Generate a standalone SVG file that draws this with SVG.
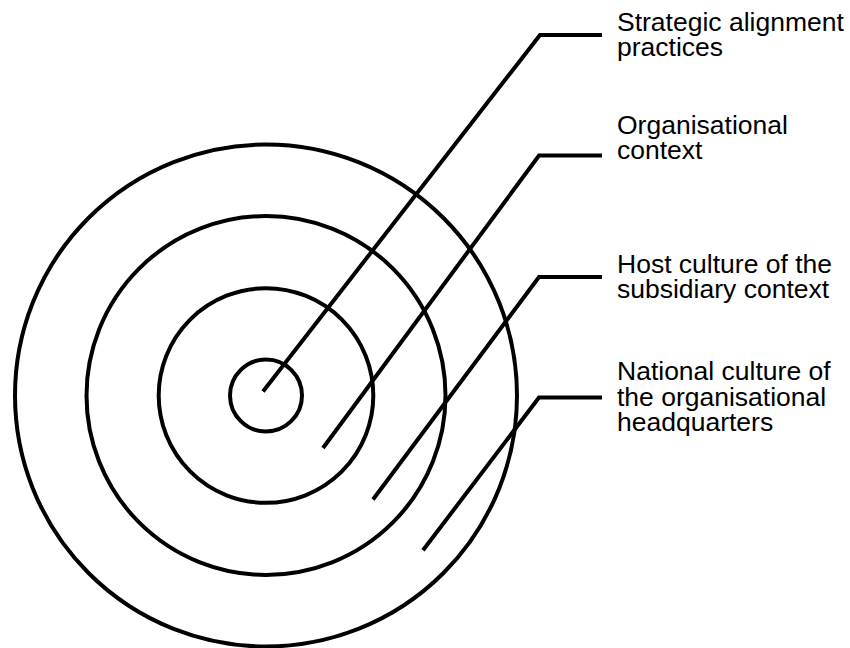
<svg xmlns="http://www.w3.org/2000/svg" width="850" height="648" viewBox="0 0 850 648">
<style>
.ring{fill:none;stroke:#000;stroke-width:4}
.lead{fill:none;stroke:#000;stroke-width:4;stroke-linecap:butt;stroke-linejoin:miter}
.lbl{font-family:"Liberation Sans",Arial,sans-serif;font-size:26.5px;fill:#000}
</style>
<rect width="850" height="648" fill="#fff"/>
<g id="rings">
<circle id="ring-national" class="ring" cx="266" cy="395.5" r="251"/>
<circle id="ring-host" class="ring" cx="266" cy="395.5" r="179.5"/>
<circle id="ring-organisational" class="ring" cx="266" cy="395.5" r="107.3"/>
<circle id="ring-strategic" class="ring" cx="266" cy="395.5" r="36"/>
</g>
<g id="connectors">
<polyline class="lead" points="263,391.5 540,35 602,35"/>
<polyline class="lead" points="323,448 539,155.5 602,155.5"/>
<polyline class="lead" points="373,499.5 539,277 602,277"/>
<polyline class="lead" points="423,550.3 539,397.5 602,397.5"/>
</g>
<g id="label-strategic">
<text class="lbl" x="617" y="30.5">Strategic alignment</text>
<text class="lbl" x="617" y="55.5">practices</text>
</g>
<g id="label-organisational">
<text class="lbl" x="617" y="134">Organisational</text>
<text class="lbl" x="617" y="159">context</text>
</g>
<g id="label-host">
<text class="lbl" x="617" y="273">Host culture of the</text>
<text class="lbl" x="617" y="298">subsidiary context</text>
</g>
<g id="label-national">
<text class="lbl" x="617" y="380">National culture of</text>
<text class="lbl" x="617" y="405.5">the organisational</text>
<text class="lbl" x="617" y="431">headquarters</text>
</g>
</svg>
